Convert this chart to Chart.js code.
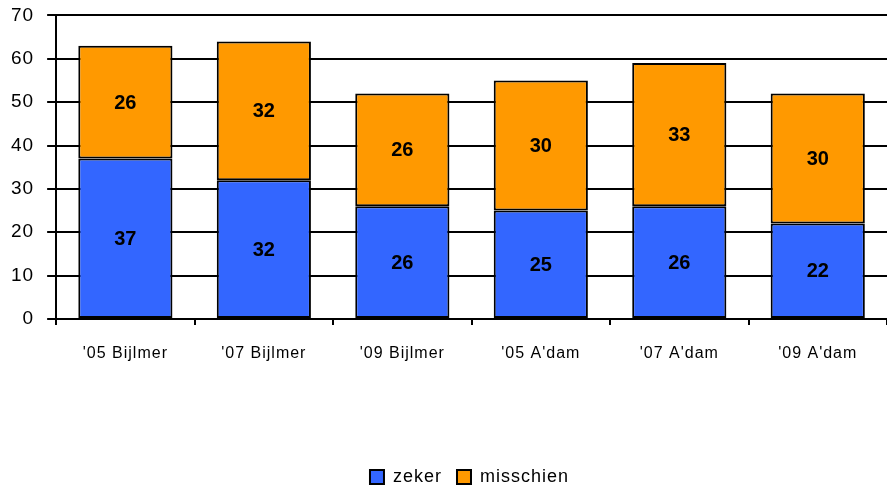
<!DOCTYPE html>
<html><head><meta charset="utf-8">
<script src="https://cdn.jsdelivr.net/npm/chart.js@4/dist/chart.umd.min.js"></script>
<style>html,body{margin:0;padding:0;background:#fff}#wrap{width:887px;height:486px}</style>
</head><body><div id="wrap"><canvas id="c" width="887" height="486"></canvas></div>
<script>
const categories = ["'05 Bijlmer", "'07 Bijlmer", "'09 Bijlmer", "'05 A'dam", "'07 A'dam", "'09 A'dam"];
const zeker = [37, 32, 26, 25, 26, 22];
const misschien = [26, 32, 26, 30, 33, 30];
const yTicks = [0, 10, 20, 30, 40, 50, 60, 70];

const FONT = "'Liberation Sans', Arial, sans-serif";

const spacingPlugin = {
  id: 'spacing',
  beforeDraw(chart) { chart.ctx.letterSpacing = '1px'; },
  afterLayout(chart) {
    if (chart.legend) { chart.legend.left += 19; chart.legend.right += 19; }
  }
};

const labelPlugin = {
  id: 'barLabels',
  afterDatasetsDraw(chart) {
    const ctx = chart.ctx;
    ctx.save();
    ctx.letterSpacing = '0px';
    ctx.font = 'bold 20px ' + FONT;
    ctx.fillStyle = '#000';
    ctx.textAlign = 'center';
    ctx.textBaseline = 'middle';
    chart.data.datasets.forEach((ds, di) => {
      const meta = chart.getDatasetMeta(di);
      meta.data.forEach((bar, i) => {
        const y = (bar.y + bar.base) / 2;
        ctx.fillText(String(ds.data[i]), bar.x, y + 1);
      });
    });
    ctx.restore();
  }
};

new Chart(document.getElementById('c'), {
  type: 'bar',
  data: {
    labels: categories,
    datasets: [
      { label: 'zeker', data: zeker, backgroundColor: '#3366FF', borderColor: '#000', borderWidth: 2, borderSkipped: false, categoryPercentage: 0.68, barPercentage: 1 },
      { label: 'misschien', data: misschien, backgroundColor: '#FF9900', borderColor: '#000', borderWidth: 2, borderSkipped: false, categoryPercentage: 0.68, barPercentage: 1 }
    ]
  },
  options: {
    responsive: false,
    animation: false,
    layout: { padding: { top: 0, left: 0, right: 0, bottom: -10 } },
    plugins: {
      legend: {
        position: 'bottom',
        labels: { font: { family: FONT, size: 18 }, color: '#000', boxWidth: 14, boxHeight: 14, padding: 15 }
      },
      tooltip: { enabled: false }
    },
    scales: {
      x: {
        stacked: true,
        grid: { display: true, offset: true, drawOnChartArea: false, color: '#000', lineWidth: 2, tickLength: 6 },
        border: { color: '#000', width: 2 },
        ticks: { font: { family: FONT, size: 16 }, color: '#000', padding: 19, maxRotation: 0 },
        afterFit(scale) { scale.height = 134; }
      },
      y: {
        stacked: true,
        min: 0, max: 70,
        afterBuildTicks(scale) { scale.ticks = yTicks.map(v => ({ value: v })); },
        grid: { color: '#000', lineWidth: 2, tickLength: 9 },
        border: { color: '#000', width: 2 },
        ticks: { font: { family: FONT, size: 19, lineHeight: 0.25 }, color: '#000', padding: 13 }
      }
    }
  },
  plugins: [spacingPlugin, labelPlugin]
});
</script></body></html>
